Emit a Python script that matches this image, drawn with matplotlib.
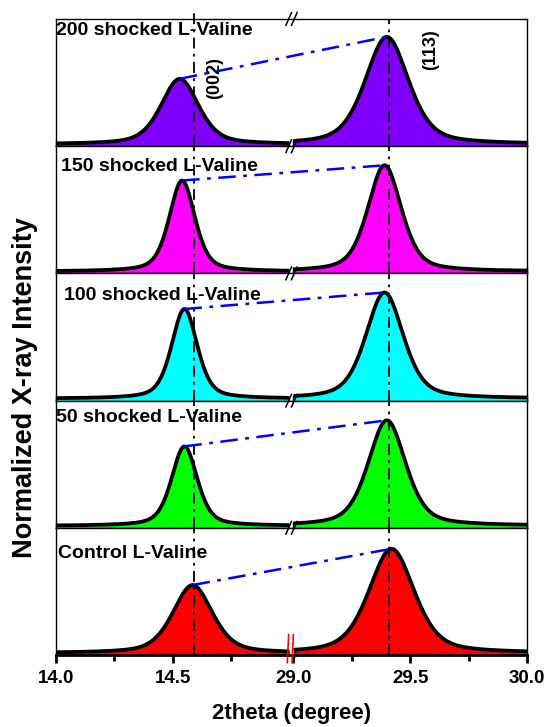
import numpy as np
import matplotlib
matplotlib.use("Agg")
import matplotlib.pyplot as plt
from matplotlib.transforms import blended_transform_factory

plt.rcParams["font.family"] = ["Liberation Sans", "DejaVu Sans"]
plt.rcParams["font.weight"] = "bold"

samples = ["200 shocked L-Valine", "150 shocked L-Valine", "100 shocked L-Valine",
           "50 shocked L-Valine", "Control L-Valine"]
fill_colors = ["#7F00FF", "#FF00FF", "#00FFFF", "#00FF00", "#FF0000"]

# (002) reflection: centre (deg), apex (normalized), FWHM (deg)
p002_pos = [14.53, 14.54, 14.55, 14.55, 14.585]
p002_height = [0.53, 0.73, 0.72, 0.64, 0.55]
p002_fwhm = [0.19, 0.13, 0.13, 0.13, 0.20]

# (113) reflection
p113_pos = [29.40, 29.39, 29.39, 29.40, 29.42]
p113_height = [0.86, 0.85, 0.85, 0.845, 0.835]
p113_fwhm = [0.22, 0.17, 0.19, 0.19, 0.23]

baseline = 0.015
ref_002 = 14.59
ref_113 = 29.41

tick_values = [14.0, 14.5, 29.0, 29.5, 30.0]
tick_labels = ["14.0", "14.5", "29.0", "29.5", "30.0"]
minor_values = [14.25, 14.75, 29.25, 29.75]

GAP = 0.017


def to_axis(x):
    # fold the 29-30 window next to the 14-15 window
    x = np.asarray(x, dtype=float)
    return np.where(x > 20, x - 14 + GAP, x)


def pseudo_voigt(x, pos, fwhm, eta=0.45):
    u = (x - pos) / fwhm
    g = np.exp(-4 * np.log(2) * u ** 2)
    l = 1 / (1 + 4 * u ** 2)
    return eta * l + (1 - eta) * g


fig = plt.figure(figsize=(5.45, 7.27), dpi=100)
left, right = 56 / 545, 527 / 545
top_px, bot_px = 19, 655
h_px = (bot_px - top_px) / 5

label_y = [0.91, 0.84, 0.83, 0.87, 0.80]
label_x = [0.0, 0.01, 0.016, 0.0, 0.005]

axes = []
for i in range(5):
    y0 = 1 - (top_px + (i + 1) * h_px) / 727
    ax = fig.add_axes([left, y0, right - left, h_px / 727])
    axes.append(ax)

    xl = np.linspace(14.0, 15.0, 400)
    xr = np.linspace(29.0, 30.0, 400)
    yl = baseline + (p002_height[i] - baseline) * pseudo_voigt(xl, p002_pos[i], p002_fwhm[i])
    yr = baseline + (p113_height[i] - baseline) * pseudo_voigt(xr, p113_pos[i], p113_fwhm[i])
    for xs, ys in [(xl, yl), (xr, yr)]:
        ax.fill_between(to_axis(xs), 0, ys, color=fill_colors[i], lw=0, zorder=1)
        ax.plot(to_axis(xs), ys, color="black", lw=2.7, zorder=3, solid_capstyle="butt")

    # guide through the two apexes
    ax.plot(to_axis([p002_pos[i], p113_pos[i]]), [p002_height[i], p113_height[i]],
            color="#0000FF", lw=1.8, dashes=(7, 3, 1.5, 3), zorder=4)

    # reference positions
    top_ext = 1.07 if i == 0 else 1.0
    ax.plot(to_axis([ref_002, ref_002]), [0, top_ext], color="black", lw=1.3,
            dashes=(6, 3, 1.5, 3), zorder=2, clip_on=False)
    ax.plot(to_axis([ref_113, ref_113]), [0, 1.0], color="black", lw=1.3,
            dashes=(6, 3, 1.5, 3), zorder=2)

    ax.text(label_x[i], label_y[i], samples[i], transform=ax.transAxes,
            fontsize=14, fontweight="bold", ha="left", va="center", zorder=5)

    ax.set_xlim(14.0, 16.0 + GAP)
    ax.set_ylim(0, 1)
    ax.set_yticks([])
    for s in ax.spines.values():
        s.set_linewidth(1.0)
    ax.set_xticks(to_axis(tick_values))
    ax.set_xticks(to_axis(minor_values), minor=True)
    ax.set_axisbelow(True)
    if i < 4:
        ax.tick_params(axis="x", which="both", direction="in", length=4, width=1,
                       labelbottom=False)
    else:
        ax.set_xticklabels(tick_labels)
        ax.tick_params(axis="x", which="major", direction="out", length=6, width=2,
                       labelsize=13.5, pad=5)
        ax.tick_params(axis="x", which="minor", direction="out", length=4, width=2)
        ax.spines["bottom"].set_linewidth(2)
        for lab in ax.get_xticklabels():
            lab.set_fontweight("bold")

    # break marks
    tr = blended_transform_factory(ax.transData, ax.transAxes)
    xb = 15.0 + GAP / 2
    for dx in (-0.012, 0.012):
        ax.plot([xb + dx - 0.012, xb + dx + 0.012], [0.95, 1.05], color="black",
                lw=1.1, transform=tr, clip_on=False, zorder=6)
    if i == 4:
        for dx in (-0.016, 0.004):
            ax.plot([xb + dx - 0.002, xb + dx + 0.004], [-0.06, 0.16], color="red",
                    lw=1.2, transform=tr, clip_on=False, zorder=6)
        ax.plot([xb + 0.010, xb + 0.020], [-0.05, 0.05], color="black",
                lw=1.1, transform=tr, clip_on=False, zorder=6)

ax0 = axes[0]
ax0.text(float(to_axis(14.68)), 0.54, "(002)", rotation=90, fontsize=13,
         fontweight="bold", ha="center", va="center")
ax0.text(float(to_axis(29.586)), 0.76, "(113)", rotation=90, fontsize=13,
         fontweight="bold", ha="center", va="center")

fig.text(25 / 545, 1 - 388 / 727, "Normalized X-ray Intensity", rotation=90,
         fontsize=19.5, fontweight="bold", ha="center", va="center")
fig.text((56 + 527) / 2 / 545, 1 - 713 / 727, "2theta (degree)", fontsize=16,
         fontweight="bold", ha="center", va="center")

fig.savefig("out.png", dpi=100)
